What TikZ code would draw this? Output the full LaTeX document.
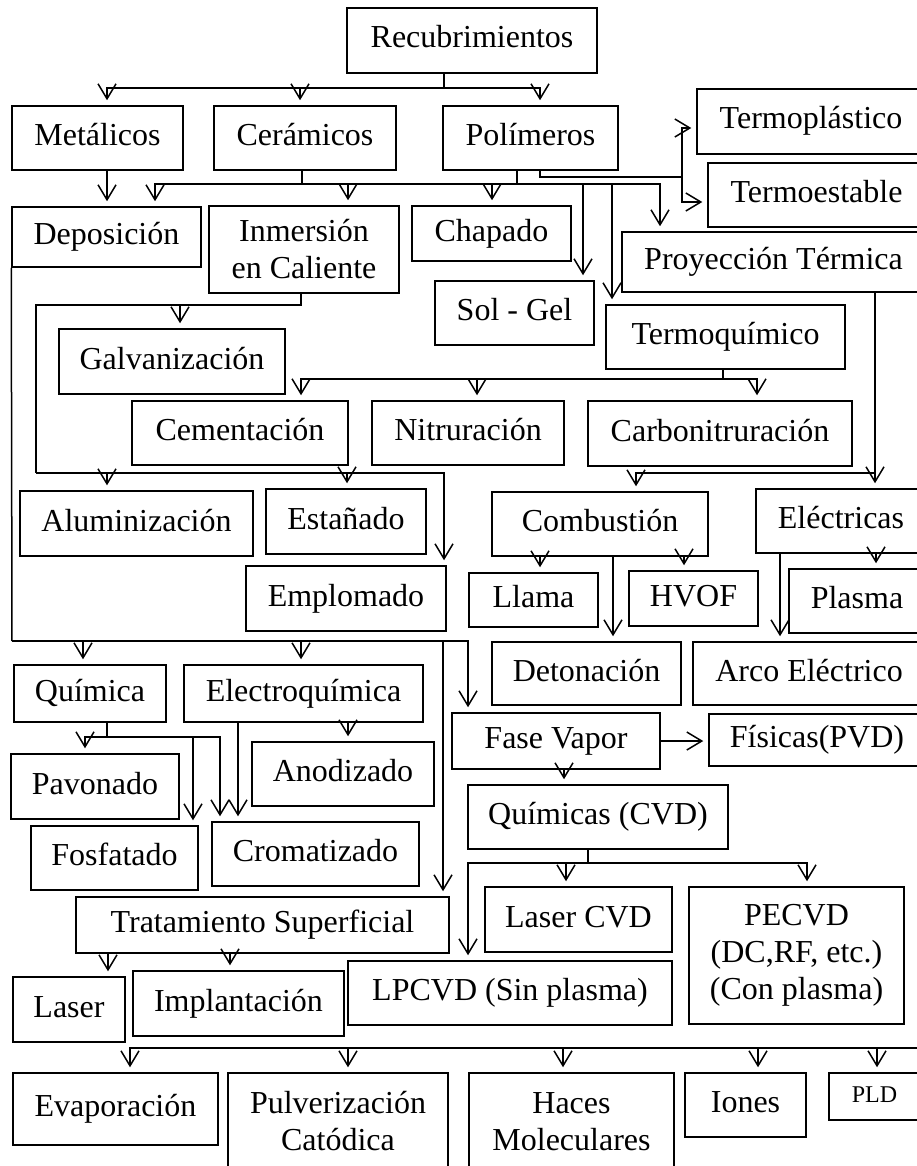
\documentclass[tikz,border=0pt]{standalone}
\usepackage{fontspec}
\setmainfont{Liberation Serif}
\usetikzlibrary{arrows.meta}

\begin{document}
\begin{tikzpicture}[x=1pt,y=-1pt,>={Straight Barb[length=15pt,width=18pt]},line width=1.5pt,
  font=\fontsize{32}{37}\selectfont,
  box2/.style={draw,rectangle,inner sep=0pt,align=center},
  box/.style={box2,text height=22pt,text depth=7pt},
  arr/.style={->,shorten >=5pt}]

\useasboundingbox (0,0) rectangle (917,1166);
\clip (0,0) rectangle (917,1166);
\fill[white] (0,0) rectangle (917,1166);

% nodes, top to bottom
\node[box,minimum width=250pt,minimum height=65pt] (rec) at (472,40.5) {Recubrimientos};
\node[box,minimum width=171pt,minimum height=64pt] (met) at (97.5,138) {Metálicos};
\node[box,minimum width=182pt,minimum height=64pt] (cer) at (305,138) {Cerámicos};
\node[box,minimum width=175pt,minimum height=64pt] (pol) at (530.5,138) {Polímeros};
\node[box,minimum width=228pt,minimum height=65pt] (tplas) at (811,121.5) {Termoplástico};
\node[box,minimum width=217pt,minimum height=64pt] (test) at (816.5,195) {Termoestable};
\node[box,minimum width=189pt,minimum height=60pt] (dep) at (106.5,237) {Deposición};
\node[box2,minimum width=190pt,minimum height=87pt] (inm) at (304,249.5) {Inmersión\\en Caliente};
\node[box,minimum width=159pt,minimum height=55pt] (chap) at (491.5,233.5) {Chapado};
\node[box,minimum width=303pt,minimum height=60pt] (proy) at (773.5,262) {Proyección Térmica};
\node[box,minimum width=159pt,minimum height=64pt] (sol) at (514.5,313) {Sol - Gel};
\node[box,minimum width=239pt,minimum height=64pt] (tqui) at (725.5,337) {Termoquímico};
\node[box,minimum width=226pt,minimum height=65pt] (galv) at (172,361.5) {Galvanización};
\node[box,minimum width=216pt,minimum height=64pt] (cem) at (240,433) {Cementación};
\node[box,minimum width=192pt,minimum height=64pt] (nit) at (468,433) {Nitruración};
\node[box,minimum width=264pt,minimum height=65pt] (carb) at (720,433.5) {Carbonitruración};
\node[box,minimum width=233pt,minimum height=65pt] (alu) at (136.5,523.5) {Aluminización};
\node[box,minimum width=160pt,minimum height=65pt] (est) at (346,521.5) {Estañado};
\node[box,minimum width=216pt,minimum height=64pt] (comb) at (600,524) {Combustión};
\node[box,minimum width=170pt,minimum height=64pt] (elec) at (841,521) {Eléctricas};
\node[box,minimum width=200pt,minimum height=65pt] (empl) at (346,598.5) {Emplomado};
\node[box,minimum width=129pt,minimum height=54pt] (llama) at (533.5,600) {Llama};
\node[box,minimum width=129pt,minimum height=55pt] (hvof) at (693.5,598.5) {HVOF};
\node[box,minimum width=136pt,minimum height=64pt] (plas) at (857,601) {Plasma};
\node[box,minimum width=189pt,minimum height=63pt] (deton) at (586.5,673.5) {Detonación};
\node[box,minimum width=232pt,minimum height=63pt] (arco) at (809,673.5) {Arco Eléctrico};
\node[box,minimum width=152pt,minimum height=57pt] (quim) at (90,693.5) {Química};
\node[box,minimum width=239pt,minimum height=57pt] (electroq) at (303.5,693.5) {Electroquímica};
\node[box,minimum width=208pt,minimum height=56pt] (fase) at (556,741) {Fase Vapor};
\node[box,minimum width=216pt,minimum height=52pt] (fis) at (817,740) {Físicas(PVD)};
\node[box,minimum width=168pt,minimum height=65pt] (pav) at (95,786.5) {Pavonado};
\node[box,minimum width=182pt,minimum height=64pt] (anod) at (343,774) {Anodizado};
\node[box,minimum width=260pt,minimum height=64pt] (quims) at (598,817) {Químicas (CVD)};
\node[box,minimum width=167pt,minimum height=64pt] (fosf) at (114.5,858) {Fosfatado};
\node[box,minimum width=207pt,minimum height=64pt] (crom) at (315.5,854) {Cromatizado};
\node[box,minimum width=373pt,minimum height=56pt] (trat) at (262.5,925) {Tratamiento Superficial};
\node[box,minimum width=187pt,minimum height=65pt] (lcvd) at (578.5,919.5) {Laser CVD};
\node[box2,minimum width=215pt,minimum height=137pt] (pecvd) at (796.5,955.5) {PECVD\\(DC,RF, etc.)\\(Con plasma)};
\node[box,minimum width=112pt,minimum height=65pt] (laser) at (69,1009.5) {Laser};
\node[box,minimum width=211pt,minimum height=65pt] (impl) at (238.5,1003.5) {Implantación};
\node[box,minimum width=324pt,minimum height=64pt] (lpcvd) at (510,993) {LPCVD (Sin plasma)};
\node[box,minimum width=205pt,minimum height=72pt] (evap) at (115.5,1109) {Evaporación};
\node[box2,minimum width=220pt,minimum height=97pt] (pulv) at (338,1121.5) {Pulverización\\Catódica};
\node[box2,minimum width=205pt,minimum height=97pt] (haces) at (571.5,1121.5) {Haces\\Moleculares};
\node[box,minimum width=121pt,minimum height=64pt] (iones) at (745.5,1105) {Iones};
\node[box,minimum width=91pt,minimum height=47pt,font=\fontsize{24}{28}\selectfont,text height=16pt,text depth=5pt] (pld) at (874.5,1096.5) {PLD};

% Recubrimientos
\coordinate (r1) at (444,88);
\draw (rec.south -| r1) -- (r1);
\draw[arr] (r1) -| (met.north -| 107,0);
\draw[arr] (r1) -| (cer.north -| 300,0);
\draw[arr] (r1) -| (pol.north -| 540,0);

% Metalicos
\draw[arr] (met.south -| 107,0) -- (dep.north -| 107,0);

% Ceramicos y Polimeros
\coordinate (c1) at (302,184);
\coordinate (p1) at (517,184);
\draw (cer.south -| c1) -- (c1) -- (p1) -- (pol.south -| p1);
\draw[arr] (c1) -| (dep.north -| 155,0);
\draw[arr] (c1) -| (inm.north -| 348,0);
\draw[arr] (c1) -| (chap.north -| 492,0);
\draw[arr] (c1) -| (sol.north -| 583,0);
\draw[arr] (c1) -| (tqui.north -| 612,0);
\draw[arr] (c1) -| (proy.north -| 660,0);
\coordinate (p2) at (682,177);
\draw (pol.south -| 540,0) |- (p2);
\draw[arr] (p2) |- (tplas.west |- 0,128);
\draw[arr] (p2) |- (test.west |- 0,202);

% Deposicion
\coordinate (d1) at (12,641);
\draw (dep.south west) -- (d1);
\draw[arr] (d1) -| (quim.north -| 83,0);
\draw[arr] (d1) -| (electroq.north -| 301,0);
\draw[arr] (d1) -| (trat.north -| 443,0);
\draw[arr] (d1) -| (fase.north -| 468,0);

% Inmersion en Caliente
\coordinate (i1) at (301,305);
\coordinate (i2) at (36,473);
\draw (inm.south -| i1) -- (i1) -| (i2);
\draw[arr] (i1) -| (galv.north -| 180,0);
\draw[arr] (i2) -| (alu.north -| 107,0);
\draw[arr] (i2) -| (est.north -| 347,0);
\draw[arr] (i2) -| (empl.north -| 444,0);

% Termoquimico
\coordinate (t1) at (723,379);
\draw (tqui.south -| t1) -- (t1);
\draw[arr] (t1) -| (cem.north -| 301,0);
\draw[arr] (t1) -| (nit.north -| 477,0);
\draw[arr] (t1) -| (carb.north -| 757,0);

% Proyeccion Termica
\coordinate (y1) at (875,473);
\draw[arr] (proy.south -| y1) -- (elec.north -| y1);
\draw[arr] (y1) -| (comb.north -| 636,0);

% Combustion y Electricas
\draw[arr] (comb.south -| 540,0) -- (llama.north -| 540,0);
\draw[arr] (comb.south -| 613,0) -- (deton.north -| 613,0);
\draw[arr] (comb.south -| 684,0) -- (hvof.north -| 684,0);
\draw[arr] (elec.south -| 876,0) -- (plas.north -| 876,0);
\draw[arr] (elec.south -| 780,0) -- (arco.north -| 780,0);

% Quimica y Electroquimica
\coordinate (q1) at (107,737);
\draw (quim.south -| q1) -- (q1);
\draw[arr] (q1) -| (pav.north -| 85,0);
\draw[arr] (q1) -| (fosf.north -| 193,0);
\draw[arr] (q1) -| (crom.north -| 220,0);
\draw[arr] (electroq.south -| 238,0) -- (crom.north -| 238,0);
\draw[arr] (electroq.south -| 348,0) -- (anod.north -| 348,0);

% Fase Vapor
\draw[arr] (fase.east) -- (fis.west |- fase.east);
\draw[arr] (fase.south -| 564,0) -- (quims.north -| 564,0);

% Quimicas (CVD)
\coordinate (k1) at (588,863);
\draw (quims.south -| k1) -- (k1);
\draw[arr] (k1) -| (lpcvd.north -| 468,0);
\draw[arr] (k1) -| (lcvd.north -| 566,0);
\draw[arr] (k1) -| (pecvd.north -| 807,0);

% Tratamiento Superficial
\draw[arr] (trat.south -| 108,0) -- (laser.north -| 108,0);
\draw[arr] (trat.south -| 230,0) -- (impl.north -| 230,0);

% PVD
\coordinate (v1) at (930,1048);
\draw[arr] (v1) -| (evap.north -| 130,0);
\draw[arr] (v1) -| (pulv.north -| 348,0);
\draw[arr] (v1) -| (haces.north -| 563,0);
\draw[arr] (v1) -| (iones.north -| 758,0);
\draw[arr] (v1) -| (pld.north -| 877,0);

\end{tikzpicture}
\end{document}
